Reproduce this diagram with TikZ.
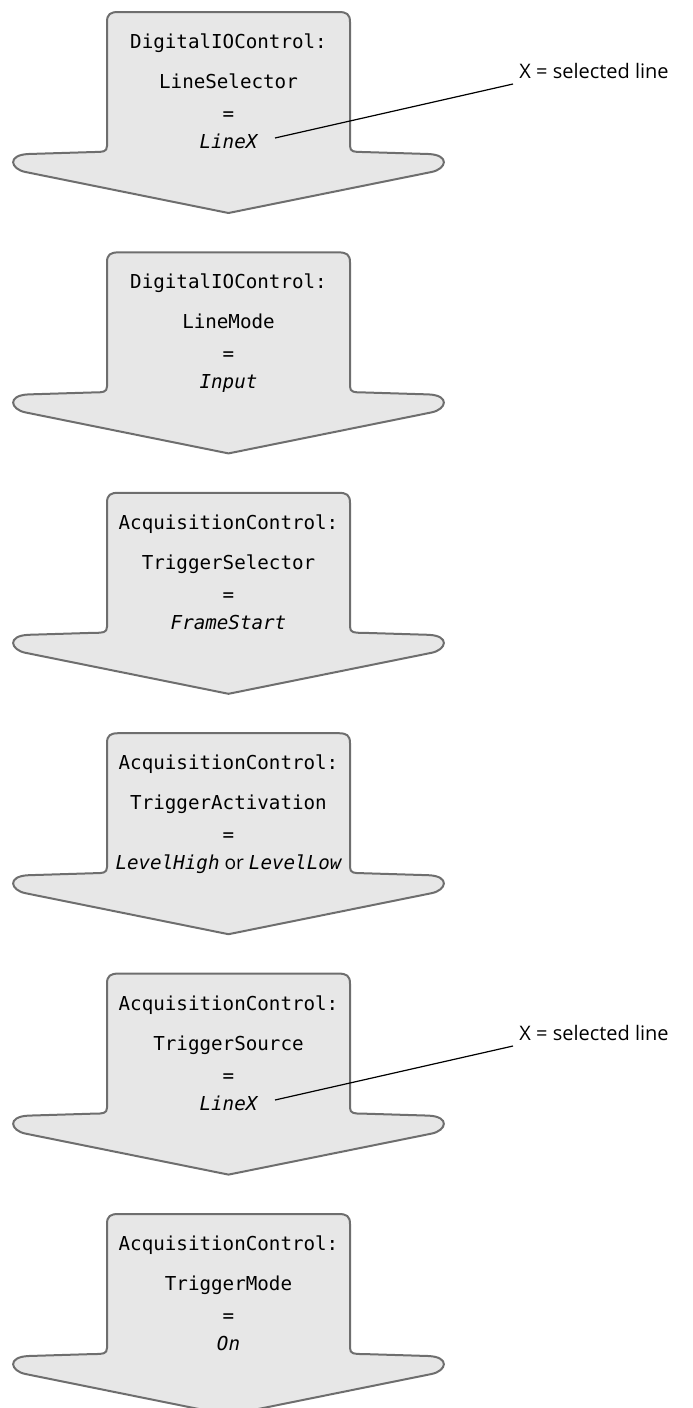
\documentclass[tikz,border=0pt]{standalone}
\usepackage{fontspec}
\setmainfont{Open Sans}
\setmonofont{DejaVu Sans Mono}
\usepackage{tikz}
\usetikzlibrary{positioning}

\definecolor{arrowfill}{HTML}{E7E7E7}
\definecolor{arrowline}{HTML}{6E6E6E}

\tikzset{
	arrowbody/.style={fill=arrowfill, draw=arrowline, line width=1pt, line join=round},
	code/.style={font=\ttfamily\fontsize{9.6}{11}\selectfont, anchor=base, inner sep=0pt},
	codeval/.style={code, font=\ttfamily\itshape\fontsize{9.6}{11}\selectfont},
	note/.style={font=\fontsize{10}{12}\selectfont, anchor=base west, inner sep=3pt},
}

\begin{document}
\begin{tikzpicture}[x=0.5pt, y=-0.5pt]
		\useasboundingbox (0,0) rectangle (692,1408);
		
		% the six big arrows
		\foreach \t in {12, 252.4, 492.8, 733.2, 973.6, 1214} {
			\draw[arrowbody] (228.5-121.5,\t+134)
				-- (228.5-121.5,\t+10) .. controls (228.5-121.5,\t+2) and (228.5-118,\t) .. (228.5-110,\t)
				-- (228.5+110,\t) .. controls (228.5+118,\t) and (228.5+121.5,\t+2) .. (228.5+121.5,\t+10)
				-- (228.5+121.5,\t+134) .. controls (228.5+121.5,\t+140) and (228.5+126,\t+140) .. (228.5+134,\t+140)
				-- (228.5+200,\t+142) .. controls (228.5+222,\t+143) and (228.5+218,\t+157) .. (228.5+203,\t+160)
				-- (228.5,\t+201)
				-- (228.5-203,\t+160) .. controls (228.5-218,\t+157) and (228.5-222,\t+143) .. (228.5-200,\t+142)
				-- (228.5-134,\t+140) .. controls (228.5-126,\t+140) and (228.5-121.5,\t+140) .. (228.5-121.5,\t+134)
				-- cycle;
		}
		
		\node[code] (head1) at (228.5,48) {DigitalIOControl:};
		\node[code] (param1) at (228.5,88) {LineSelector};
		\node[code] (eq1) at (228.5,120) {=};
		\node[codeval] (value1) at (228.5,148) {LineX};
		
		\node[code] (head2) at (228.5,288) {DigitalIOControl:};
		\node[code] (param2) at (228.5,328) {LineMode};
		\node[code] (eq2) at (228.5,360) {=};
		\node[codeval] (value2) at (228.5,388) {Input};
		
		\node[code] (head3) at (228.5,529) {AcquisitionControl:};
		\node[code] (param3) at (228.5,569) {TriggerSelector};
		\node[code] (eq3) at (228.5,601) {=};
		\node[codeval] (value3) at (228.5,629) {FrameStart};
		
		\node[code] (head4) at (228.5,769) {AcquisitionControl:};
		\node[code] (param4) at (228.5,809) {TriggerActivation};
		\node[code] (eq4) at (228.5,841) {=};
		\node[code] (value4) at (228.5,869) {\itshape LevelHigh\upshape\rmfamily{} or \ttfamily\itshape LevelLow};
		
		\node[code] (head5) at (228.5,1010) {AcquisitionControl:};
		\node[code] (param5) at (228.5,1050) {TriggerSource};
		\node[code] (eq5) at (228.5,1082) {=};
		\node[codeval] (value5) at (228.5,1110) {LineX};
		
		\node[code] (head6) at (228.5,1250) {AcquisitionControl:};
		\node[code] (param6) at (228.5,1290) {TriggerMode};
		\node[code] (eq6) at (228.5,1322) {=};
		\node[codeval] (value6) at (228.5,1350) {On};
		
		% notes on the selected line
		\node[note] (note1) at (513,78) {X = selected line};
		\node[note] (note5) at (513,1040) {X = selected line};
		\coordinate (end1) at (275,138);
		\coordinate (end5) at (275,1100);
		
		\draw[line width=0.6pt] (end1) -- ([yshift=-3pt]note1.base west);
		\draw[line width=0.6pt] (end5) -- ([yshift=-3pt]note5.base west);
\end{tikzpicture}
\end{document}
